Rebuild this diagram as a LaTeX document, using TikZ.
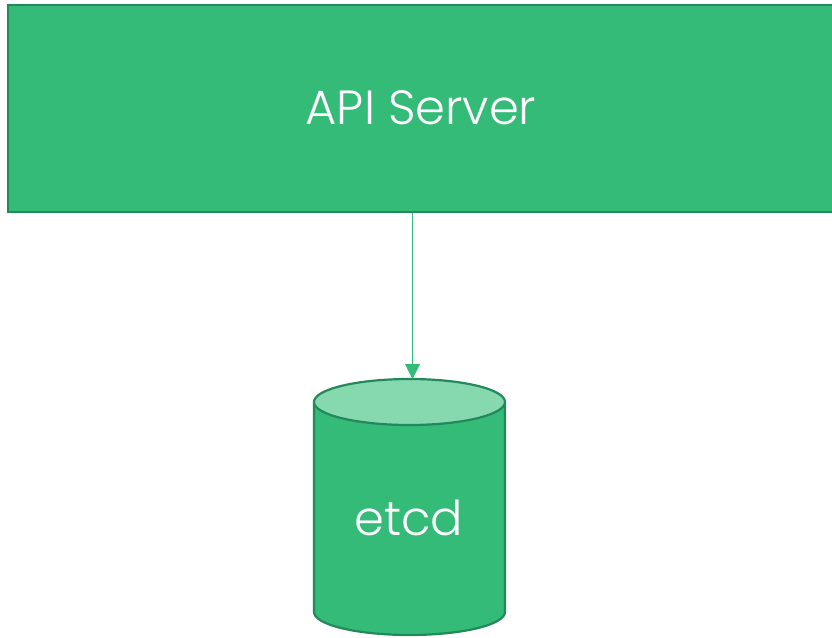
\documentclass[tikz,border=0pt]{standalone}
\usepackage{fontspec}
\setmainfont{Poppins Light}
\usetikzlibrary{arrows.meta}
\definecolor{boxfill}{HTML}{33BB77}
\definecolor{boxline}{HTML}{23885A}
\definecolor{endfill}{HTML}{86D8AF}
\tikzset{
  x=1pt, y=-1pt,
  apibox/.style={draw=boxline, line width=2.2pt, fill=boxfill},
  dbbody/.style={draw=boxline, line width=2.2pt, fill=boxfill},
  dbend/.style={draw=boxline, line width=2.2pt, fill=endfill},
  lbl/.style={text=white, font=\fontsize{48}{57}\selectfont, inner sep=0pt},
  link/.style={draw=boxfill, line width=1pt, -{Triangle[length=15pt,width=15pt]}}
}
\begin{document}
\begin{tikzpicture}
\useasboundingbox (0,0) rectangle (832,637);
\draw[apibox] (8,5) rectangle (840,212);
\node[lbl] (api) at (421,108) {API Server};
\coordinate (apibot) at (412.5,213);
% cylinder
\draw[dbbody] (314,402) -- (314,612) arc[start angle=180, end angle=0, x radius=95.5, y radius=23] -- (505,402);
\draw[dbend] (409.5,402) ellipse[x radius=95.5, y radius=23];
\coordinate (dbtop) at (412.5,379);
\node[lbl] (etcd) at (409,518) {etcd};
\draw[link] (apibot) -- (dbtop);
\end{tikzpicture}
\end{document}
